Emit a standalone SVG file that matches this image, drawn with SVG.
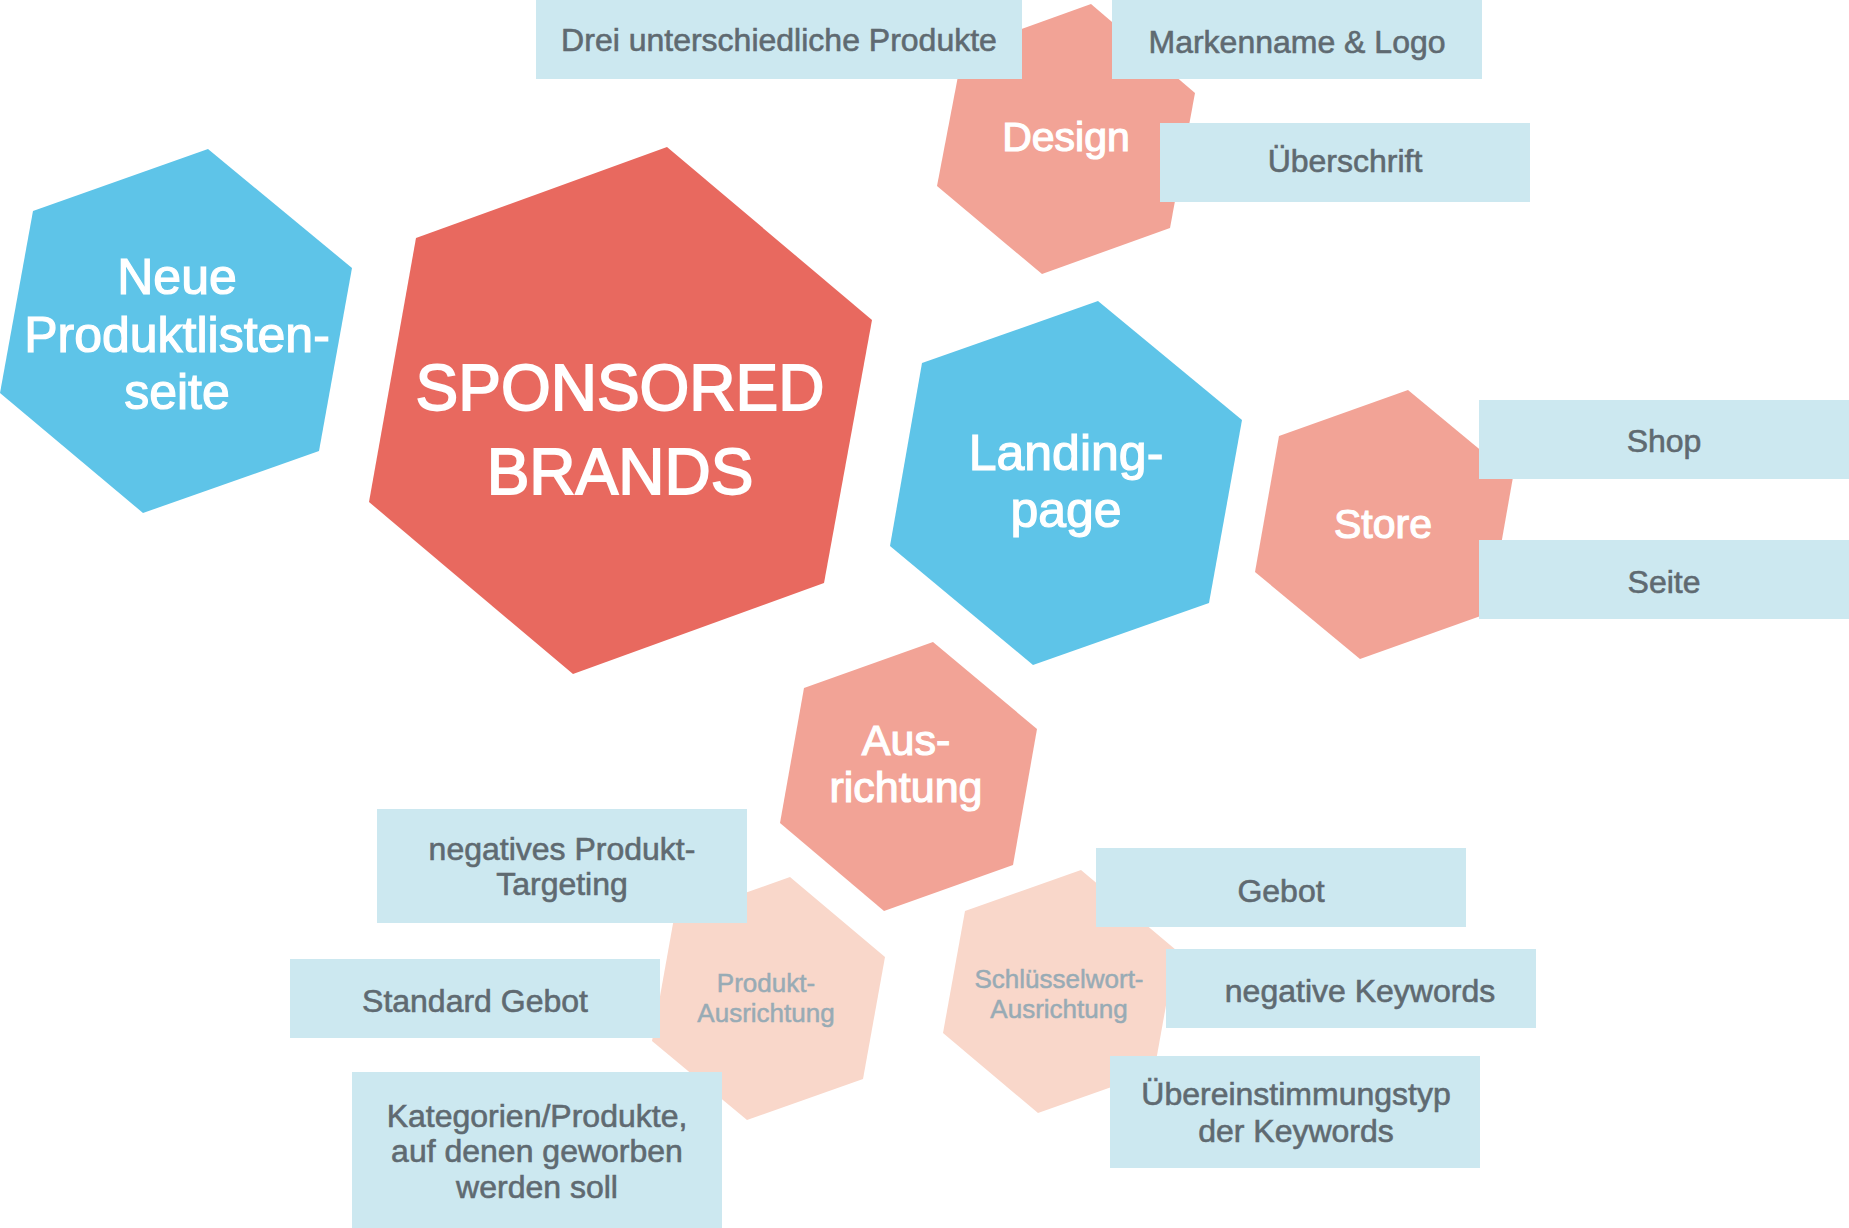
<svg xmlns="http://www.w3.org/2000/svg" width="1849" height="1228" viewBox="0 0 1849 1228">
<style>
.t{font-family:"Liberation Sans",Arial,sans-serif;text-anchor:middle}
.w{fill:#fff;stroke:#fff;stroke-width:1.2}
.big{stroke-width:1.8}
.d{fill:#5f6a71;font-size:32px;stroke:#5f6a71;stroke-width:0.6}
.g{fill:#98abb5;font-size:26px;stroke:#98abb5;stroke-width:0.5}
.box{fill:#cce8f0}
.red{fill:#e8695f}
.blue{fill:#5ec4e8}
.sal{fill:#f2a396}
.peach{fill:#f9d7ca}
</style>
<g id="connectors"/>
<g id="neue">
<polygon class="blue" points="208,149 352,268 319,451 143,513 0,393 33,211"/>
<text class="t w" font-size="50"><tspan x="177" y="294">Neue</tspan><tspan x="177" y="352">Produktlisten-</tspan><tspan x="177" y="409">seite</tspan></text>
</g>
<g id="sponsored">
<polygon class="red" points="667,147 872,320 824,583 573,674 369,502 416,238"/>
<text class="t w big" font-size="64"><tspan x="620" y="410">SPONSORED</tspan><tspan x="620" y="494">BRANDS</tspan></text>
</g>
<g id="design">
<polygon class="sal" points="1091,4 1195,93 1170,228 1042,274 937,186 963,50"/>
<text class="t w" font-size="41" x="1066" y="151">Design</text>
</g>
<g id="landing">
<polygon class="blue" points="1098,301 1242,420 1209,603 1033,665 890,546 922,363"/>
<text class="t w" font-size="50"><tspan x="1066" y="470">Landing-</tspan><tspan x="1066" y="527">page</tspan></text>
</g>
<g id="store">
<polygon class="sal" points="1408,390 1513,477 1489,613 1360,659 1255,572 1279,436"/>
<text class="t w" font-size="41" x="1383" y="538">Store</text>
</g>
<g id="ausrichtung">
<polygon class="sal" points="933,642 1037,729 1013,865 884,911 780,823 804,688"/>
<text class="t w" font-size="43"><tspan x="906" y="755">Aus-</tspan><tspan x="906" y="802">richtung</tspan></text>
</g>
<g id="produkt-ausrichtung">
<polygon class="peach" points="790,877 885,957 863,1079 747,1120 652,1041 674,918"/>
<text class="t g"><tspan x="766" y="992">Produkt-</tspan><tspan x="766" y="1022">Ausrichtung</tspan></text>
</g>
<g id="schluesselwort-ausrichtung">
<polygon class="peach" points="1081,870 1176,950 1154,1072 1038,1113 943,1033 965,911"/>
<text class="t g"><tspan x="1059" y="988">Schlüsselwort-</tspan><tspan x="1059" y="1018">Ausrichtung</tspan></text>
</g>
<g id="drei">
<rect class="box" x="536" y="0" width="486" height="79"/>
<text class="t d" x="779" y="51">Drei unterschiedliche Produkte</text>
</g>
<g id="markenname">
<rect class="box" x="1112" y="0" width="370" height="79"/>
<text class="t d" x="1297" y="53">Markenname &amp; Logo</text>
</g>
<g id="ueberschrift">
<rect class="box" x="1160" y="123" width="370" height="79"/>
<text class="t d" x="1345" y="172">Überschrift</text>
</g>
<g id="shop">
<rect class="box" x="1479" y="400" width="370" height="79"/>
<text class="t d" x="1664" y="452">Shop</text>
</g>
<g id="seite">
<rect class="box" x="1479" y="540" width="370" height="79"/>
<text class="t d" x="1664" y="593">Seite</text>
</g>
<g id="negatives-produkt">
<rect class="box" x="377" y="809" width="370" height="114"/>
<text class="t d"><tspan x="562" y="860">negatives Produkt-</tspan><tspan x="562" y="895">Targeting</tspan></text>
</g>
<g id="standard-gebot">
<rect class="box" x="290" y="959" width="370" height="79"/>
<text class="t d" x="475" y="1012">Standard Gebot</text>
</g>
<g id="kategorien">
<rect class="box" x="352" y="1072" width="370" height="156"/>
<text class="t d"><tspan x="537" y="1127">Kategorien/Produkte,</tspan><tspan x="537" y="1162">auf denen geworben</tspan><tspan x="537" y="1198">werden soll</tspan></text>
</g>
<g id="gebot">
<rect class="box" x="1096" y="848" width="370" height="79"/>
<text class="t d" x="1281" y="902">Gebot</text>
</g>
<g id="negative-keywords">
<rect class="box" x="1166" y="949" width="370" height="79"/>
<text class="t d" x="1360" y="1002">negative Keywords</text>
</g>
<g id="uebereinstimmungstyp">
<rect class="box" x="1110" y="1056" width="370" height="112"/>
<text class="t d"><tspan x="1296" y="1105">Übereinstimmungstyp</tspan><tspan x="1296" y="1142">der Keywords</tspan></text>
</g>
</svg>
